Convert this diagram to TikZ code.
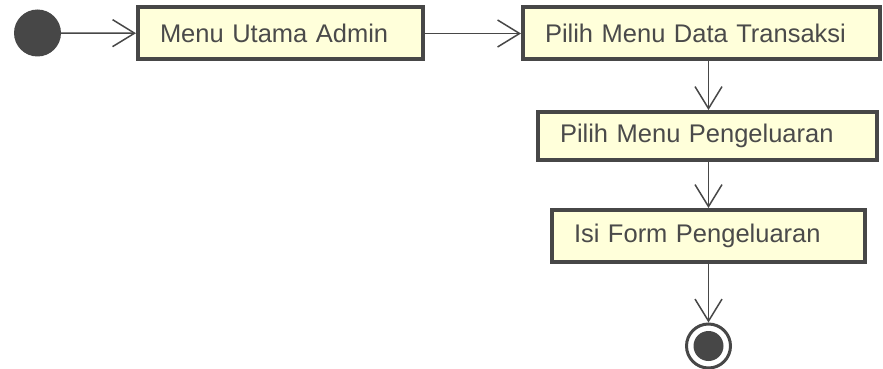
\documentclass[tikz,border=0pt]{standalone}
\usepackage{fontspec}
\setmainfont{Liberation Sans}
\usetikzlibrary{arrows.meta}

\definecolor{garis}{HTML}{474747}
\definecolor{isi}{HTML}{FFFFDA}
\definecolor{tulisan}{HTML}{4A4A4A}

\tikzset{aktivitas/.style = {draw = garis, fill = isi, line width = 4pt,
                             text = tulisan, inner xsep = 22pt, inner ysep = 0pt,
                             text width = #1, align = left, minimum height = 52pt,
                             font = \fontsize{25.5}{30}\selectfont},
         awal/.style = {circle, fill = garis, minimum size = 47pt, inner sep = 0pt},
         akhir/.style = {circle, draw = garis, line width = 3pt, minimum size = 44pt,
                         inner sep = 0pt,
                         path picture = {\fill[garis] (path picture bounding box.center) circle (15pt);}},
         alur/.style = {draw = garis, line width = 1.5pt,
                        -{Straight Barb[length = 22pt, width = 27pt, line width = 1.5pt]}}
        }

\begin{document}
\begin{tikzpicture}[x = 1pt, y = -1pt]
  \useasboundingbox (0, 0) rectangle (883, 369);
  \node[awal] (mulai) at (37.5, 33) {};
  \node[aktivitas = 241pt] (menu) at (280.5, 33.5) {Menu Utama Admin};
  \node[aktivitas = 313pt] (transaksi) at (701.5, 33.5) {Pilih Menu Data Transaksi};
  \node[aktivitas = 295pt, minimum height = 48pt] (pengeluaran) at (707.5, 136) {Pilih Menu Pengeluaran};
  \node[aktivitas = 269pt] (form) at (708.5, 236) {Isi Form Pengeluaran};
  \node[akhir] (selesai) at (708.5, 346) {};
  \draw[alur] (mulai) -- (menu);
  \draw[alur] (menu) -- (transaksi);
  \draw[alur] (transaksi.south -| selesai) -- (pengeluaran.north -| selesai);
  \draw[alur] (pengeluaran.south -| selesai) -- (form.north -| selesai);
  \draw[alur] (form.south -| selesai) -- (selesai);
\end{tikzpicture}
\end{document}
